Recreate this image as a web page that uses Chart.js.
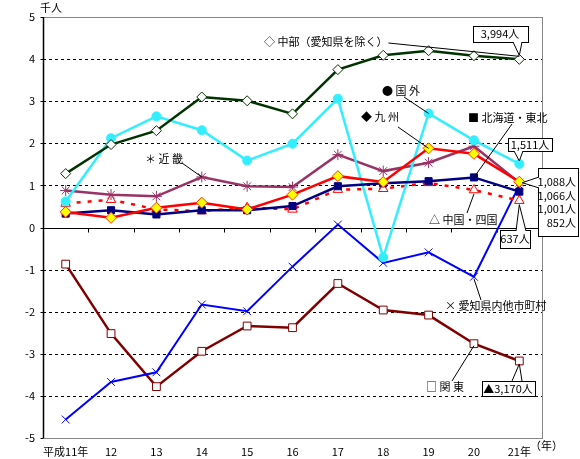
<!DOCTYPE html>
<html lang="ja">
<head>
<meta charset="utf-8">
<script src="https://cdn.jsdelivr.net/npm/chart.js@4/dist/chart.umd.min.js"></script>
<style>
  html, body { margin: 0; padding: 0; background: #fff; }
  #wrap { width: 580px; height: 459px; position: relative; }
</style>
</head>
<body>
<div id="wrap"><canvas id="chart"></canvas></div>
<script>
// Data (千人)
const years = ["平成11年", "12", "13", "14", "15", "16", "17", "18", "19", "20", "21年"];
const chubu = [1.28, 1.97, 2.30, 3.10, 3.01, 2.70, 3.75, 4.09, 4.20, 4.08, 3.994];
const kokugai = [0.62, 2.12, 2.64, 2.31, 1.59, 1.99, 3.06, -0.71, 2.71, 2.07, 1.511];
const kyushu = [0.37, 0.23, 0.47, 0.59, 0.43, 0.78, 1.22, 1.08, 1.88, 1.75, 1.088];
const hokkaidoTohoku = [0.33, 0.41, 0.31, 0.41, 0.41, 0.51, 0.98, 1.05, 1.10, 1.19, 0.852];
const kinki = [0.88, 0.78, 0.74, 1.20, 0.98, 0.96, 1.73, 1.34, 1.54, 1.93, 1.066];
const chugokuShikoku = [0.57, 0.66, 0.43, 0.39, 0.47, 0.43, 0.90, 0.92, 1.06, 0.89, 0.637];
const aichiOther = [-4.56, -3.67, -3.44, -1.83, -1.99, -0.93, 0.07, -0.84, -0.59, -1.17, 1.001];
const kanto = [-0.87, -2.52, -3.78, -2.94, -2.34, -2.38, -1.33, -1.96, -2.08, -2.76, -3.17];
const yTicks = [-5, -4, -3, -2, -1, 0, 1, 2, 3, 4, 5];

const JP = '"Noto Sans CJK JP", "Noto Sans", sans-serif';

function series(data, color, style, extra) {
  return Object.assign({
    data: data,
    borderColor: color,
    borderWidth: 2.5,
    pointStyle: style,
    pointRadius: 4.5,
    pointBorderColor: color,
    pointBackgroundColor: "#fff",
    pointBorderWidth: 1,
    tension: 0,
  }, extra || {});
}

// index 0 is drawn on top
const datasets = [
  series(chubu, "#003300", "rectRot", { pointRadius: 5 }),
  series(kyushu, "#ff0000", "rectRot", { pointBackgroundColor: "#ffff00", pointBorderColor: "#ff3300", pointRadius: 5.5 }),
  series(hokkaidoTohoku, "#000080", "rect", { pointBackgroundColor: "#000080", pointRadius: 5 }),
  series(kokugai, "#33eeff", "circle", { pointBackgroundColor: "#33eeff", pointBorderColor: "#33eeff", pointRadius: 4.5 }),
  series(kinki, "#993366", "star", { pointRadius: 5.5 }),
  series(chugokuShikoku, "#ff0000", "triangle", { borderDash: [4, 7], borderWidth: 2.5, pointRadius: 5.5 }),
  series(aichiOther, "#0000ff", "crossRot", { borderWidth: 2, pointRadius: 5.5 }),
  series(kanto, "#800000", "rect", { pointRadius: 5.5 }),
];

function pt(chart, ds, i) {
  const p = chart.getDatasetMeta(ds).data[i];
  return { x: p.x, y: p.y };
}

// axes, grid lines and the frame
const framePlugin = {
  id: "frame",
  beforeDatasetsDraw(chart) {
    const { ctx, chartArea: a, scales } = chart;
    const y = scales.y;
    ctx.save();
    ctx.lineWidth = 1;
    yTicks.forEach((v) => {
      if (v === 0 || v === 5 || v === -5) return;
      const py = Math.round(y.getPixelForValue(v)) + 0.5;
      ctx.strokeStyle = "#000";
      ctx.setLineDash([3, 3]);
      ctx.beginPath();
      ctx.moveTo(a.left, py);
      ctx.lineTo(a.right, py);
      ctx.stroke();
    });
    ctx.setLineDash([]);
    // gray frame
    ctx.strokeStyle = "#888";
    ctx.strokeRect(Math.round(a.left) + 0.5, Math.round(a.top) + 0.5, Math.round(a.right - a.left), Math.round(a.bottom - a.top));
    // zero line with tick marks
    const zy = Math.round(y.getPixelForValue(0)) + 0.5;
    ctx.strokeStyle = "#000";
    ctx.beginPath();
    ctx.moveTo(a.left, zy);
    ctx.lineTo(a.right, zy);
    const step = (a.right - a.left) / years.length;
    for (let i = 1; i < years.length; i++) {
      const tx = Math.round(a.left + step * i) + 0.5;
      ctx.moveTo(tx, zy);
      ctx.lineTo(tx, zy + 4);
    }
    ctx.stroke();
    // left axis
    const lx = Math.round(a.left) + 0.5;
    ctx.lineWidth = 1.5;
    ctx.beginPath();
    ctx.moveTo(lx, a.top);
    ctx.lineTo(lx, a.bottom);
    ctx.stroke();
    ctx.lineWidth = 1;
    ctx.beginPath();
    yTicks.forEach((v) => {
      const py = Math.round(y.getPixelForValue(v)) + 0.5;
      ctx.moveTo(lx - 3, py);
      ctx.lineTo(lx, py);
    });
    ctx.stroke();
    ctx.restore();
  },
};

function text(ctx, s, x, y, align) {
  ctx.textAlign = align || "left";
  ctx.fillText(s, x, y);
  return x + ctx.measureText(s).width;
}
function leader(ctx, x1, y1, x2, y2) {
  ctx.beginPath();
  ctx.moveTo(x1, y1);
  ctx.lineTo(x2, y2);
  ctx.stroke();
}
function callout(ctx, x, y, w, h, b1, b2, tx, ty) {
  ctx.fillStyle = "#fff";
  ctx.fillRect(x, y, w, h);
  ctx.strokeRect(x + 0.5, y + 0.5, w, h);
  // pointer
  ctx.beginPath();
  ctx.moveTo(b1.x, b1.y);
  ctx.lineTo(tx, ty);
  ctx.lineTo(b2.x, b2.y);
  ctx.closePath();
  ctx.fill();
  ctx.beginPath();
  ctx.moveTo(b1.x, b1.y);
  ctx.lineTo(tx, ty);
  ctx.lineTo(b2.x, b2.y);
  ctx.stroke();
  ctx.fillStyle = "#000";
}

const labelPlugin = {
  id: "labels",
  afterDraw(chart) {
    const ctx = chart.ctx;
    ctx.save();
    ctx.fillStyle = "#000";
    ctx.strokeStyle = "#000";
    ctx.lineWidth = 1;
    ctx.font = "11px " + JP;
    ctx.textBaseline = "middle";

    text(ctx, "千人", 40, 8);
    text(ctx, "（年）", 530, 446);

    // series labels with leader lines
    const c21 = pt(chart, 0, 10);
    const endC = text(ctx, "◇ 中部（愛知県を除く）", 264, 42);
    leader(ctx, endC + 1, 43, c21.x, c21.y - 3);

    const k19 = pt(chart, 3, 8);
    text(ctx, "● 国 外", 382, 91);
    leader(ctx, 404, 97, k19.x, k19.y);

    const q19 = pt(chart, 1, 8);
    text(ctx, "◆ 九 州", 361, 117);
    leader(ctx, 398, 127, q19.x, q19.y);

    const h20 = pt(chart, 2, 9);
    text(ctx, "■ 北海道・東北", 468, 118);
    leader(ctx, 512, 124, h20.x, h20.y);

    const s20 = pt(chart, 5, 9);
    text(ctx, "△ 中国・四国", 429, 220);
    leader(ctx, 467, 213, s20.x, s20.y + 4);

    const n14 = pt(chart, 4, 3);
    text(ctx, "＊ 近 畿", 145, 159);
    leader(ctx, 182, 163, n14.x, n14.y);

    const a20 = pt(chart, 6, 9);
    text(ctx, "× 愛知県内他市町村", 445, 306);
    leader(ctx, 481, 300, a20.x, a20.y + 2);

    const t20 = pt(chart, 7, 9);
    text(ctx, "□ 関 東", 426, 387);
    leader(ctx, 452, 381, t20.x, t20.y + 2);

    // value callouts
    callout(ctx, 473, 26, 55, 16, { x: 513, y: 42 }, { x: 522, y: 42 }, c21.x, c21.y - 4);
    text(ctx, "3,994人", 500, 34, "center");

    const k21 = pt(chart, 3, 10);
    callout(ctx, 508, 138, 44, 13, { x: 514, y: 151 }, { x: 523, y: 151 }, k21.x, k21.y - 3);
    text(ctx, "1,511人", 530, 145, "center");

    const q21 = pt(chart, 1, 10);
    callout(ctx, 538, 168, 40, 68, { x: 539, y: 177 }, { x: 539, y: 188 }, q21.x + 3, q21.y + 1);
    text(ctx, "1,088人", 576, 182, "right");
    text(ctx, "1,066人", 576, 196, "right");
    text(ctx, "1,001人", 576, 209, "right");
    text(ctx, "852人", 576, 223, "right");

    const s21 = pt(chart, 5, 10);
    callout(ctx, 500, 230, 30, 18, { x: 516, y: 231 }, { x: 526, y: 231 }, s21.x, s21.y + 4);
    text(ctx, "637人", 515, 239, "center");

    const t21 = pt(chart, 7, 10);
    callout(ctx, 482, 381, 53, 15, { x: 512, y: 381 }, { x: 522, y: 381 }, t21.x, t21.y + 3);
    text(ctx, "▲3,170人", 508, 389, "center");

    ctx.restore();
  },
};

new Chart(document.getElementById("chart"), {
  type: "line",
  data: { labels: years, datasets: datasets },
  options: {
    responsive: true,
    maintainAspectRatio: false,
    animation: false,
    layout: { padding: { top: 17, right: 38, left: 0, bottom: 0 } },
    plugins: { legend: { display: false }, tooltip: { enabled: false } },
    scales: {
      x: {
        type: "category",
        offset: true,
        grid: { display: false, drawTicks: false },
        border: { display: false },
        ticks: { color: "#000", font: { size: 11, family: JP }, padding: 7, maxRotation: 0, autoSkip: false },
        afterFit: (s) => { s.height = 21; },
      },
      y: {
        min: -5,
        max: 5,
        afterBuildTicks: (s) => { s.ticks = yTicks.map((v) => ({ value: v })); },
        grid: { display: false, drawTicks: false },
        border: { display: false },
        ticks: { color: "#000", font: { size: 11, family: JP }, padding: 8 },
        afterFit: (s) => { s.width = 43; },
      },
    },
  },
  plugins: [framePlugin, labelPlugin],
});
</script>
</body>
</html>
